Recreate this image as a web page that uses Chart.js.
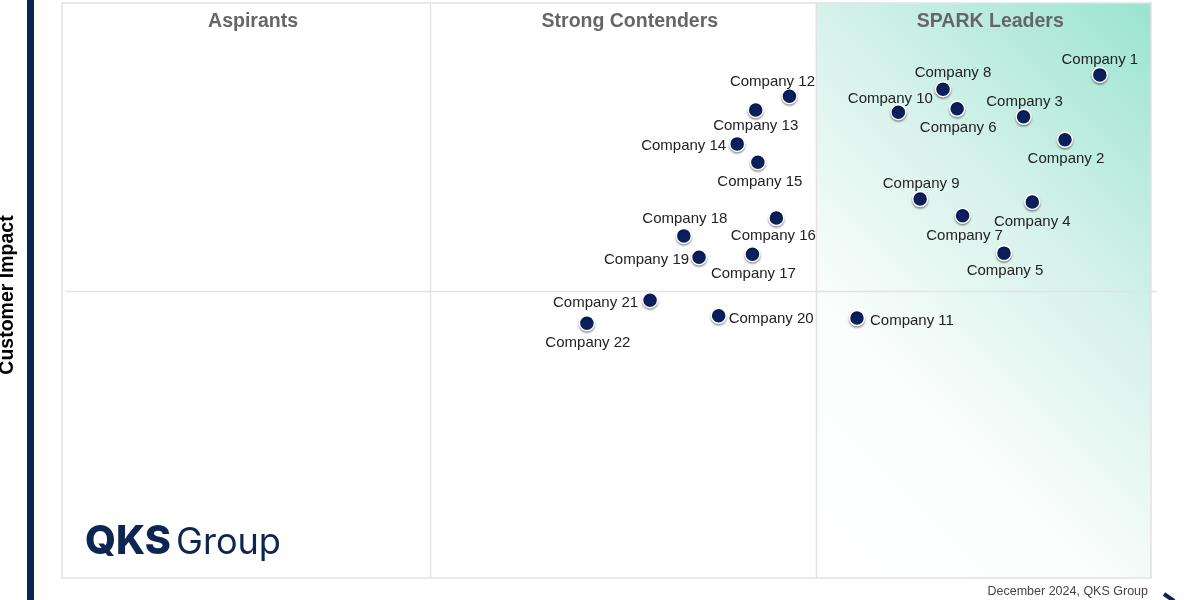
<!DOCTYPE html>
<html>
<head>
<meta charset="utf-8">
<script src="https://cdn.jsdelivr.net/npm/chart.js@4.4.1/dist/chart.umd.min.js"></script>
<style>
html, body { margin: 0; padding: 0; background: #fff; }
#wrap { width: 1200px; height: 600px; }
</style>
</head>
<body>
<div id="wrap"><canvas id="chart" width="1200" height="600"></canvas></div>
<script>
// Vendor positions (x: capability, y: customer impact), both on a 0-100 scale
const companies = [
    'Company 1', 'Company 2', 'Company 3', 'Company 4', 'Company 5', 'Company 6',
    'Company 7', 'Company 8', 'Company 9', 'Company 10', 'Company 11', 'Company 12',
    'Company 13', 'Company 14', 'Company 15', 'Company 16', 'Company 17', 'Company 18',
    'Company 19', 'Company 20', 'Company 21', 'Company 22'
];
const xScores = [95.3, 92.1, 88.3, 89.1, 86.5, 82.2, 82.7, 80.9, 78.8, 76.8, 73.0, 66.8,
                 63.7, 62.0, 63.9, 65.6, 63.4, 57.1, 58.5, 60.3, 54.0, 48.2];
const yScores = [87.5, 76.2, 80.2, 65.4, 56.5, 81.6, 63.0, 85.0, 65.9, 81.0, 45.2, 83.8,
                 81.4, 75.5, 72.3, 62.6, 56.3, 59.5, 55.8, 45.6, 48.3, 44.3];

// Quadrant boundaries and titles
const xBands = [0, 33.8, 69.2, 100];
const yMid = 50;
const bandTitles = ['Aspirants', 'Strong Contenders', 'SPARK Leaders'];

// where each label sits relative to its dot: [align, dx, dy]
const labelPlace = {
    'Company 1': ['center', 0, -15], 'Company 2': ['center', 1, 19],
    'Company 3': ['center', 1, -15], 'Company 4': ['center', 0, 20],
    'Company 5': ['center', 1, 18], 'Company 6': ['center', 1, 19],
    'Company 7': ['center', 2, 20], 'Company 8': ['center', 10, -16],
    'Company 9': ['center', 1, -15], 'Company 10': ['center', -8, -13],
    'Company 11': ['left', 13, 3], 'Company 12': ['center', -17, -14],
    'Company 13': ['center', 0, 16], 'Company 14': ['right', -11, 2],
    'Company 15': ['center', 2, 20], 'Company 16': ['center', -3, 18],
    'Company 17': ['center', 1, 20], 'Company 18': ['center', 1, -17],
    'Company 19': ['right', -10, 3], 'Company 20': ['left', 10, 3],
    'Company 21': ['right', -12, 3], 'Company 22': ['center', 1, 20]
};

const NAVY = '#0c2552';
const FONT = '"Liberation Sans", Arial, sans-serif';

const quadrantPlugin = {
    id: 'quadrants',
    beforeDraw(chart) {
        const { ctx, chartArea: a, scales: { x, y } } = chart;
        const xl = x.getPixelForValue(xBands[2]);

        // leaders area gradient, running at 45 degrees from bottom-left to top-right
        const w = a.right - xl, h = a.bottom - a.top;
        const d = (w + h) / 2;
        const g = ctx.createLinearGradient(xl, a.bottom, xl + d, a.bottom - d);
        g.addColorStop(0, '#ffffff');
        g.addColorStop(0.3, '#fbfefd');
        g.addColorStop(0.63, '#d6f2ea');
        g.addColorStop(1, '#9ae4cf');
        ctx.save();
        ctx.fillStyle = g;
        ctx.fillRect(xl, a.top, w, h);

        // box and dividers
        ctx.strokeStyle = '#e2e2e2';
        ctx.lineWidth = 1.5;
        ctx.strokeRect(a.left, a.top, a.right - a.left, a.bottom - a.top);
        ctx.beginPath();
        [xBands[1], xBands[2]].forEach(v => {
            const px = Math.round(x.getPixelForValue(v)) + 0.5;
            ctx.moveTo(px, a.top);
            ctx.lineTo(px, a.bottom);
        });
        const py = Math.round(y.getPixelForValue(yMid)) + 0.5;
        ctx.moveTo(a.left + 4, py);
        ctx.lineTo(a.right + 6, py);
        ctx.stroke();

        // quadrant titles
        ctx.fillStyle = '#666666';
        ctx.font = 'bold 19.5px ' + FONT;
        ctx.textAlign = 'center';
        ctx.textBaseline = 'middle';
        bandTitles.forEach((t, i) => {
            const cx = (x.getPixelForValue(xBands[i]) + x.getPixelForValue(xBands[i + 1])) / 2 + 7;
            ctx.fillText(t, cx, a.top + 18.5);
        });
        ctx.restore();
    },
    beforeDatasetsDraw(chart) {
        const ctx = chart.ctx;
        ctx.save();
        ctx.shadowColor = 'rgba(0,0,0,0.35)';
        ctx.shadowBlur = 2;
        ctx.shadowOffsetY = 1.5;
    },
    afterDatasetsDraw(chart) {
        chart.ctx.restore();
    },
    afterDraw(chart) {
        const { ctx, chartArea: a } = chart;
        const meta = chart.getDatasetMeta(0);
        ctx.save();

        // company labels
        ctx.fillStyle = '#222222';
        ctx.font = '15px ' + FONT;
        ctx.textBaseline = 'middle';
        meta.data.forEach((pt, i) => {
            const name = companies[i];
            const p = labelPlace[name] || ['center', 0, -16];
            ctx.textAlign = p[0];
            ctx.fillText(name, pt.x + p[1], pt.y + p[2]);
        });

        // left axis bar and title
        ctx.fillStyle = NAVY;
        ctx.fillRect(27, 0, 7, chart.height);
        ctx.save();
        ctx.translate(8, 295);
        ctx.rotate(-Math.PI / 2);
        ctx.fillStyle = '#000000';
        ctx.font = 'bold 19.5px ' + FONT;
        ctx.textAlign = 'center';
        ctx.textBaseline = 'middle';
        ctx.fillText('Customer Impact', 0, 0);
        ctx.restore();

        // arrow tip bottom right
        ctx.strokeStyle = NAVY;
        ctx.lineWidth = 4;
        ctx.beginPath();
        ctx.moveTo(1164, 594);
        ctx.lineTo(1174, 601);
        ctx.stroke();

        // footer
        ctx.fillStyle = '#444444';
        ctx.font = '12.5px ' + FONT;
        ctx.textAlign = 'right';
        ctx.textBaseline = 'middle';
        ctx.fillText('December 2024, QKS Group', a.right - 3, 592);

        // logo
        ctx.textAlign = 'left';
        ctx.textBaseline = 'alphabetic';
        ctx.fillStyle = NAVY;
        ctx.font = '800 40px Inter, sans-serif';
        let w = ctx.measureText('QKS').width;
        let s = 40 * 86 / w;
        ctx.font = '800 ' + s.toFixed(1) + 'px Inter, sans-serif';
        ctx.fillText('QKS', 85, 554);
        ctx.font = '400 40px Inter, sans-serif';
        w = ctx.measureText('Group').width;
        s = 40 * 105 / w;
        ctx.font = '400 ' + s.toFixed(1) + 'px Inter, sans-serif';
        ctx.fillText('Group', 176, 554);
        ctx.restore();
    }
};

const points = companies.map((c, i) => ({ x: xScores[i], y: yScores[i] }));

new Chart(document.getElementById('chart'), {
    type: 'scatter',
    data: {
        datasets: [{
            label: 'Vendors',
            data: points,
            backgroundColor: '#0a1f5c',
            borderColor: '#ffffff',
            borderWidth: 1.5,
            pointRadius: 7.5,
            pointHoverRadius: 7.5
        }]
    },
    options: {
        responsive: false,
        animation: false,
        devicePixelRatio: 1,
        layout: { autoPadding: false, padding: { left: 62, right: 49, top: 3, bottom: 22 } },
        scales: {
            x: { type: 'linear', min: 0, max: 100, display: false },
            y: { type: 'linear', min: 0, max: 100, display: false }
        },
        plugins: {
            legend: { display: false },
            tooltip: { enabled: false }
        }
    },
    plugins: [quadrantPlugin]
});
</script>
</body>
</html>
